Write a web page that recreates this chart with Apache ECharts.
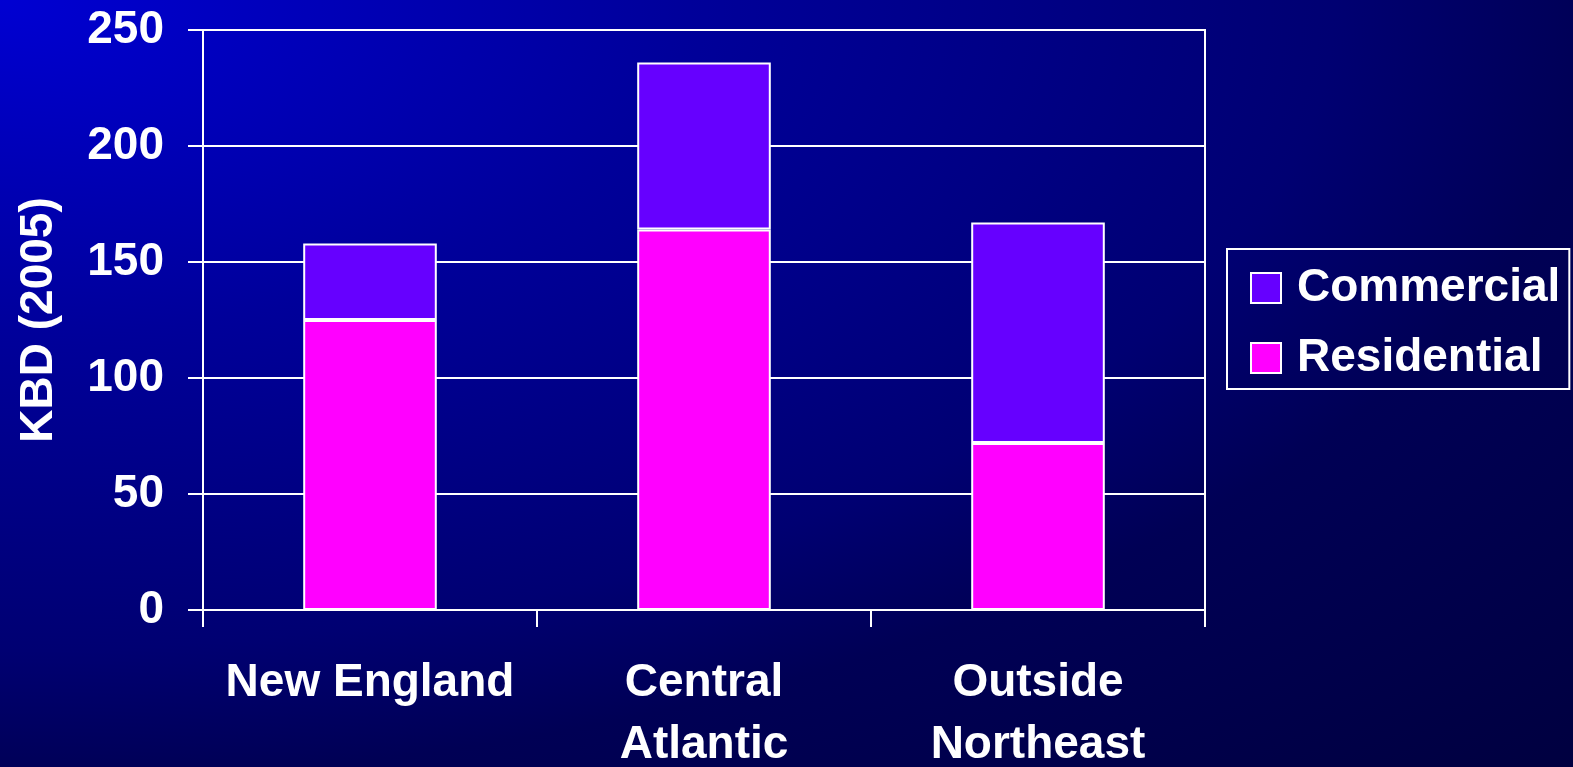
<!DOCTYPE html>
<html>
<head>
<meta charset="utf-8">
<script src="https://cdn.jsdelivr.net/npm/echarts@6/dist/echarts.min.js"></script>
<style>
html,body{margin:0;padding:0;width:1573px;height:767px;overflow:hidden;}
#c{width:1573px;height:767px;background:radial-gradient(ellipse farthest-corner at 0 0,#0000d2 0%,#00009a 31%,#000072 60%,#000055 72%,#000040 100%);}
</style>
</head>
<body>
<div id="c"></div>
<script>
const categories = ['New England', 'Central\nAtlantic', 'Outside\nNortheast'];
const residential = [125, 164, 72];
const commercial = [33, 72, 95];
const yTicks = { min: 0, max: 250, interval: 50 };

const FONT = '"Liberation Sans", Arial, sans-serif';
const chart = echarts.init(document.getElementById('c'));
chart.setOption({
  backgroundColor: 'transparent',
  animation: false,
  textStyle: { fontFamily: FONT },
  grid: {
    left: 203, top: 30, right: 368, bottom: 157,
    containLabel: false,
    outerBoundsMode: 'none',
    show: true, borderColor: '#ffffff', borderWidth: 2, backgroundColor: 'transparent'
  },
  legend: {
    orient: 'vertical',
    left: 1227, top: 249,
    data: ['Commercial', 'Residential'],
    icon: 'rect',
    itemWidth: 30, itemHeight: 30, itemGap: 24,
    padding: [16, 9, 8, 23],
    borderColor: '#ffffff', borderWidth: 2,
    itemStyle: { borderColor: '#ffffff', borderWidth: 2 },
    textStyle: { color: '#ffffff', fontSize: 46, fontWeight: 'bold', fontFamily: FONT, padding: [0, 0, 0, 11] }
  },
  xAxis: {
    type: 'category',
    data: categories,
    boundaryGap: true,
    axisLine: { show: true, lineStyle: { color: '#ffffff', width: 2 } },
    axisTick: { show: true, length: 17, alignWithLabel: false, lineStyle: { color: '#ffffff', width: 2 } },
    axisLabel: { color: '#ffffff', fontSize: 46, fontWeight: 'bold', fontFamily: FONT, lineHeight: 62, margin: 42, interval: 0 },
    splitLine: { show: false }
  },
  yAxis: {
    type: 'value',
    min: yTicks.min, max: yTicks.max, interval: yTicks.interval,
    name: 'KBD (2005)',
    nameLocation: 'middle',
    nameGap: 141,
    nameTextStyle: { color: '#ffffff', fontSize: 46, fontWeight: 'bold', fontFamily: FONT },
    axisLine: { show: true, lineStyle: { color: '#ffffff', width: 2 } },
    axisTick: { show: true, length: 15, lineStyle: { color: '#ffffff', width: 2 } },
    axisLabel: { color: '#ffffff', fontSize: 46, fontWeight: 'bold', fontFamily: FONT, margin: 39 },
    splitLine: { show: true, lineStyle: { color: '#ffffff', width: 2 } }
  },
  series: [
    {
      name: 'Residential', type: 'bar', stack: 'total', data: residential, barWidth: '40%',
      itemStyle: { color: '#ff00ff', borderColor: '#ffffff', borderWidth: 2 }
    },
    {
      name: 'Commercial', type: 'bar', stack: 'total', data: commercial, barWidth: '40%',
      itemStyle: { color: '#6600ff', borderColor: '#ffffff', borderWidth: 2 }
    }
  ]
});
</script>
</body>
</html>
